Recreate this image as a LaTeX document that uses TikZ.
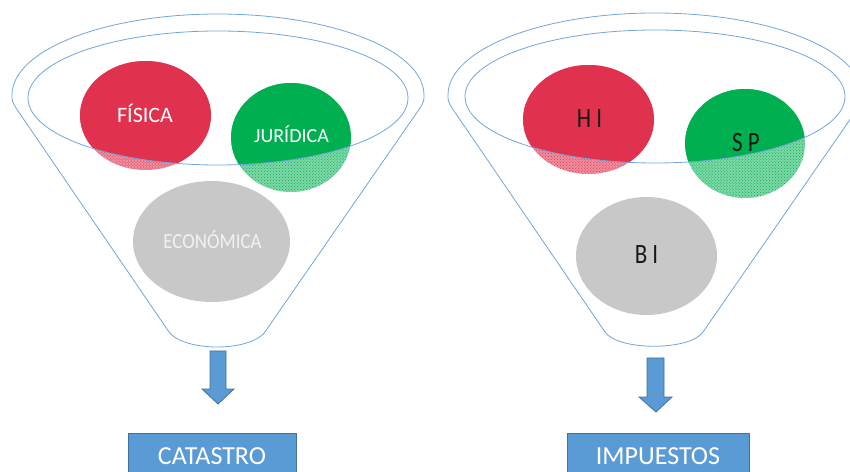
\documentclass[tikz,border=0pt]{standalone}
\usepackage{fontspec}
\setmainfont{Carlito}
\newfontfamily\ecofont[FakeStretch=0.88]{Carlito}
\newfontfamily\codefont[FakeStretch=0.82]{Carlito}
\usetikzlibrary{shapes.geometric,patterns}

\definecolor{rimblue}{HTML}{6FA6DC}
\definecolor{boxblue}{HTML}{5B9BD5}
\definecolor{boxedge}{HTML}{41719C}
\definecolor{setred}{HTML}{E0314E}
\definecolor{setgreen}{HTML}{00AF50}
\definecolor{setgrey}{HTML}{C8C8C8}

\begin{document}
\begin{tikzpicture}[x=1bp,y=-1bp,
  rim/.style={draw=rimblue, line width=0.8bp},
  blob/.style={ellipse, inner sep=0pt, draw=none},
  paleredfill/.style={preaction={fill=setred!55!white}, pattern=crosshatch dots, pattern color=setred},
  palegreenfill/.style={preaction={fill=setgreen!50!white}, pattern=crosshatch dots, pattern color=setgreen},
  wlbl/.style={anchor=base, inner sep=0pt, text=white, font=\fontsize{22bp}{26bp}\selectfont},
  klbl/.style={anchor=base, inner sep=0pt, text=black!90, font=\codefont\fontsize{28bp}{32bp}\selectfont},
  blockarrow/.style={fill=boxblue, draw=boxedge, line width=0.8bp, line join=miter},
  outbox/.style={rectangle, fill=boxblue, draw=boxedge, line width=0.8bp, inner sep=0pt,
    text height=17bp, text depth=0pt, minimum height=44bp,
    text=white, font=\fontsize{26bp}{30bp}\selectfont}
]
\useasboundingbox (0,0) rectangle (850,472);
\clip (0,0) rectangle (850,472);

% ---------- left funnel: CATASTRO ----------
\draw[rim] (12,95) arc[start angle=180,end angle=360,x radius=206,y radius=81]
  .. controls (424,101) .. (420,108) -- (267,329)
  .. controls (255,353) and (179,353) .. (167,329) -- (16,108)
  .. controls (12,101) .. (12,95);

\node[blob, paleredfill, minimum width=131bp, minimum height=109bp] (fis) at (145.5,115.5) {};
\node[blob, palegreenfill, minimum width=120bp, minimum height=109bp] (jur) at (291,137.5) {};
\begin{scope}
  \clip (218,98) ellipse [x radius=190, y radius=67];
  \fill[setred] (fis.center) ellipse [x radius=65.5, y radius=54.5];
  \fill[setgreen] (jur.center) ellipse [x radius=60, y radius=54.5];
\end{scope}
\node[blob, fill=setgrey, minimum width=157bp, minimum height=121bp] (eco) at (211.5,241.5) {};
\draw[rim] (218,98) ellipse [x radius=190, y radius=67];

\node[wlbl] at (145,123) {FÍSICA};
\node[wlbl, font=\fontsize{20bp}{24bp}\selectfont] at (291.5,143) {JURÍDICA};
\node[wlbl, text=white!95!black, font=\ecofont\fontsize{21.5bp}{26bp}\selectfont] at (212.5,249) {ECONÓMICA};

\draw[blockarrow] (210,351) -- (226,351) -- (226,389) -- (234,389) -- (218,404) -- (202,389) -- (210,389) -- cycle;
\node[outbox, minimum width=168bp] (cat) at (212,455.5) {CATASTRO};

% ---------- right funnel: IMPUESTOS ----------
\draw[rim] (448,95) arc[start angle=180,end angle=360,x radius=207,y radius=82]
  .. controls (862,101) .. (858,108) -- (703,332)
  .. controls (690,351) and (618,351) .. (605,332) -- (452,108)
  .. controls (448,101) .. (448,95);

\node[blob, paleredfill, minimum width=131bp, minimum height=109bp] (hi) at (588.5,119.5) {};
\node[blob, palegreenfill, minimum width=120bp, minimum height=109bp] (sp) at (745,143.5) {};
\begin{scope}
  \clip (655,96.5) ellipse [x radius=190, y radius=66.5];
  \fill[setred] (hi.center) ellipse [x radius=65.5, y radius=54.5];
  \fill[setgreen] (sp.center) ellipse [x radius=60, y radius=54.5];
\end{scope}
\node[blob, fill=setgrey, minimum width=141bp, minimum height=118bp] (bi) at (646.5,256) {};
\draw[rim] (655,96.5) ellipse [x radius=190, y radius=66.5];

\node[klbl] at (589.5,128) {H I};
\node[klbl] at (746,152) {S P};
\node[klbl] at (646.5,264) {B I};

\draw[blockarrow] (647,358) -- (664,358) -- (664,397) -- (672,397) -- (656,412) -- (639,397) -- (647,397) -- cycle;
\node[outbox, minimum width=182bp] (imp) at (658,455.5) {IMPUESTOS};
\end{tikzpicture}
\end{document}
